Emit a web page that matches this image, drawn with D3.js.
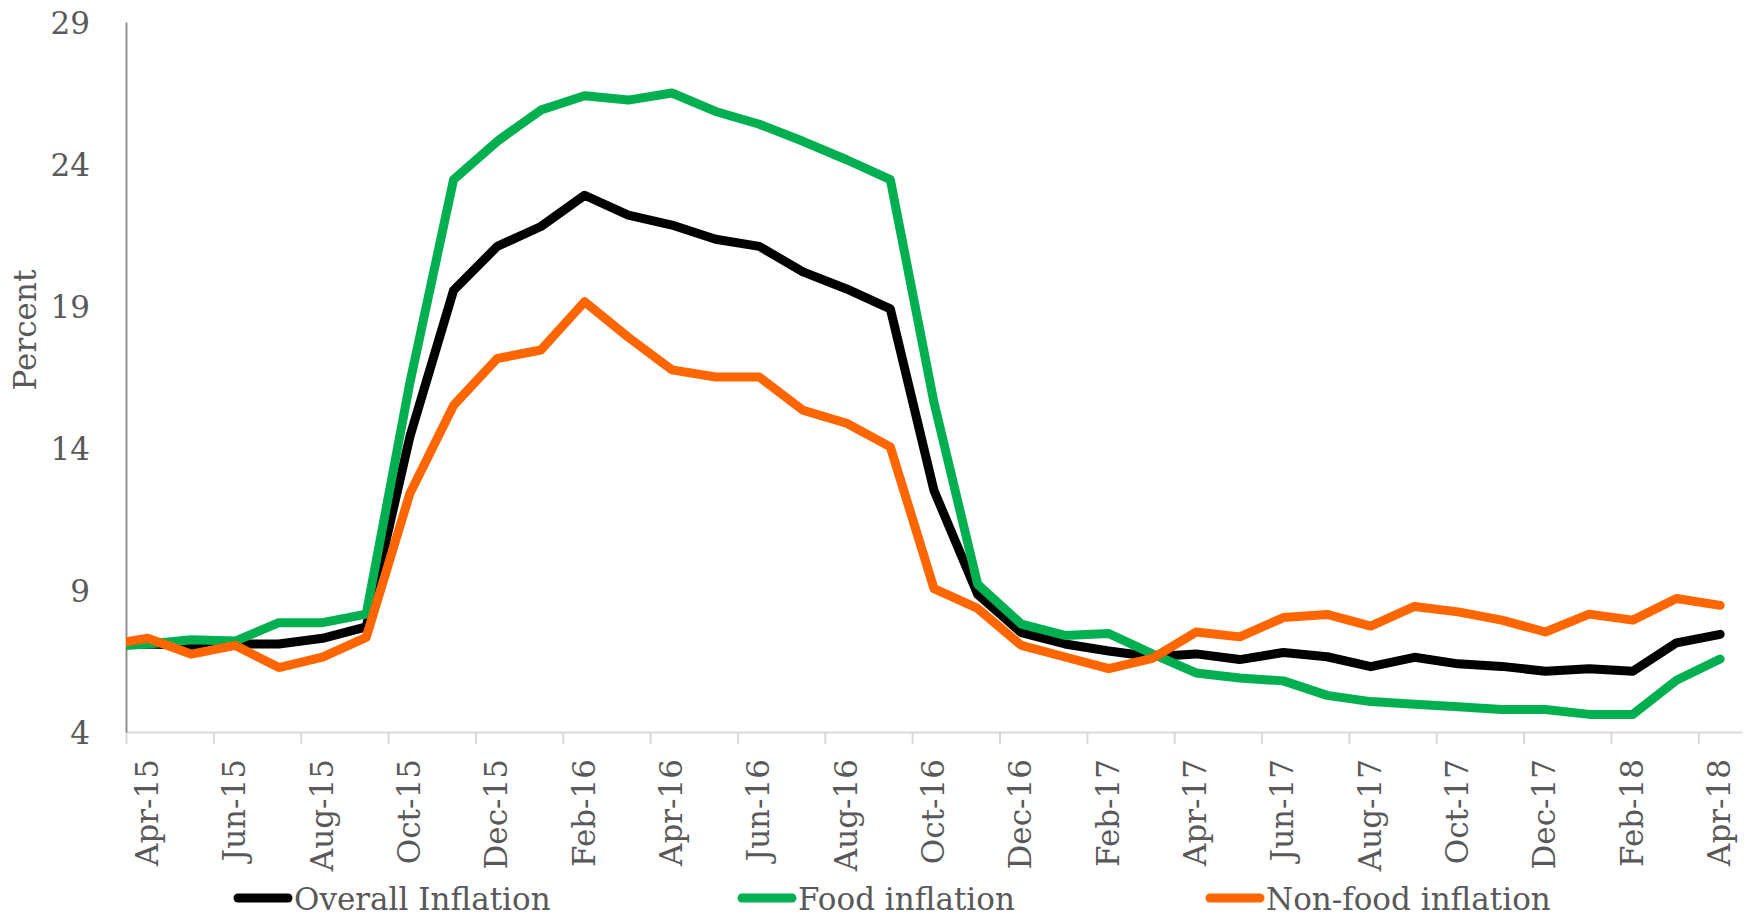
<!DOCTYPE html>
<html lang="en">
<head>
<meta charset="UTF-8">
<title>Inflation</title>
<script src="https://cdn.jsdelivr.net/npm/d3@7"></script>
<style>
  body { margin: 0; background: #fff; }
  svg text { font-family: "DejaVu Serif", "Liberation Serif", serif; fill: #595959; }
</style>
</head>
<body>
<svg id="chart" width="1753" height="918"></svg>
<script>
// Mar-15 is only there so the lines run into the y axis like the original
const months = ["Mar-15","Apr-15","May-15","Jun-15","Jul-15","Aug-15","Sep-15","Oct-15","Nov-15","Dec-15",
  "Jan-16","Feb-16","Mar-16","Apr-16","May-16","Jun-16","Jul-16","Aug-16","Sep-16","Oct-16","Nov-16","Dec-16",
  "Jan-17","Feb-17","Mar-17","Apr-17","May-17","Jun-17","Jul-17","Aug-17","Sep-17","Oct-17","Nov-17","Dec-17",
  "Jan-18","Feb-18","Mar-18","Apr-18"];

const overall = [7.05, 7.1, 7.05, 7.1, 7.1, 7.3, 7.7, 14.4, 19.55, 21.1,
  21.8, 22.9, 22.2, 21.85, 21.35, 21.1, 20.2, 19.6, 18.9, 12.5, 8.85, 7.5,
  7.1, 6.85, 6.65, 6.75, 6.55, 6.8, 6.65, 6.3, 6.63, 6.4, 6.31, 6.14,
  6.23, 6.14, 7.14, 7.44];

const food = [7.0, 7.1, 7.25, 7.2, 7.85, 7.85, 8.15, 16.3, 23.45, 24.8,
  25.9, 26.4, 26.25, 26.5, 25.85, 25.4, 24.8, 24.15, 23.45, 15.6, 9.2, 7.8,
  7.4, 7.47, 6.75, 6.08, 5.9, 5.8, 5.29, 5.07, 4.98, 4.89, 4.79, 4.79,
  4.62, 4.62, 5.82, 6.57];

const nonFood = [7.05, 7.3, 6.74, 7.05, 6.27, 6.64, 7.33, 12.4, 15.5, 17.15,
  17.45, 19.15, 17.9, 16.75, 16.5, 16.5, 15.33, 14.87, 14.04, 9.05, 8.35, 7.05,
  6.64, 6.23, 6.59, 7.52, 7.35, 8.03, 8.14, 7.73, 8.42, 8.23, 7.94, 7.52,
  8.15, 7.94, 8.7, 8.46];

const yTicks = [4, 9, 14, 19, 24, 29];
const seriesNames = ["Overall Inflation", "Food inflation", "Non-food inflation"];
const seriesColors = ["#000000", "#00b050", "#ff6600"];

const width = 1753, height = 918;
const margin = { top: 22, right: 11, bottom: 186, left: 126 };

const svg = d3.select("#chart");

const x = d3.scaleLinear()
  .domain([0.5, months.length - 0.5])
  .range([margin.left, width - margin.right]);

const y = d3.scaleLinear()
  .domain([4, 29])
  .range([height - margin.bottom, margin.top]);

// labelled months: every second one starting at Apr-15
const labelIdx = d3.range(1, months.length, 2);

// x axis: light grey line, ticks on category boundaries
svg.append("g")
  .attr("transform", `translate(0,${y(4)})`)
  .call(d3.axisBottom(x).tickValues(labelIdx.map(i => i - 0.5)).tickFormat("").tickSize(12).tickSizeOuter(0))
  .call(g => g.selectAll("path, line").attr("stroke", "#d9d9d9").attr("stroke-width", 2));

svg.append("g")
  .selectAll("text")
  .data(labelIdx)
  .join("text")
  .attr("transform", i => `translate(${x(i) + 10},759) rotate(-90)`)
  .attr("text-anchor", "end")
  .attr("font-size", 31)
  .text(i => months[i]);

// y axis
svg.append("g")
  .attr("transform", `translate(${margin.left},0)`)
  .call(d3.axisLeft(y).tickValues(yTicks).tickSize(0).tickPadding(36).tickSizeOuter(0))
  .call(g => g.select(".domain").attr("stroke", "#878787").attr("stroke-width", 1.8))
  .call(g => g.selectAll("text").attr("font-size", 31).attr("font-family", null).attr("fill", "#595959").attr("dy", "0.36em"));

svg.append("text")
  .attr("transform", "translate(36,330) rotate(-90)")
  .attr("text-anchor", "middle")
  .attr("font-size", 31)
  .text("Percent");

// lines, clipped at the plot area
svg.append("clipPath").attr("id", "plot")
  .append("rect")
  .attr("x", margin.left).attr("y", 0)
  .attr("width", width - margin.left).attr("height", height);

const line = d3.line().x((d, i) => x(i)).y(d => y(d));

svg.append("g")
  .attr("clip-path", "url(#plot)")
  .selectAll("path")
  .data([overall, food, nonFood])
  .join("path")
  .attr("d", line)
  .attr("fill", "none")
  .attr("stroke", (d, i) => seriesColors[i])
  .attr("stroke-width", 9)
  .attr("stroke-linejoin", "round")
  .attr("stroke-linecap", "round");

// legend
const legendX = [233, 737, 1205];
const legend = svg.append("g")
  .selectAll("g")
  .data(seriesNames)
  .join("g")
  .attr("transform", (d, i) => `translate(${legendX[i]},898)`);

legend.append("line")
  .attr("x1", 5).attr("x2", 55)
  .attr("stroke", (d, i) => seriesColors[i])
  .attr("stroke-width", 9)
  .attr("stroke-linecap", "round");

legend.append("text")
  .attr("x", 61)
  .attr("y", 12)
  .attr("font-size", 31)
  .text(d => d);
</script>
</body>
</html>
